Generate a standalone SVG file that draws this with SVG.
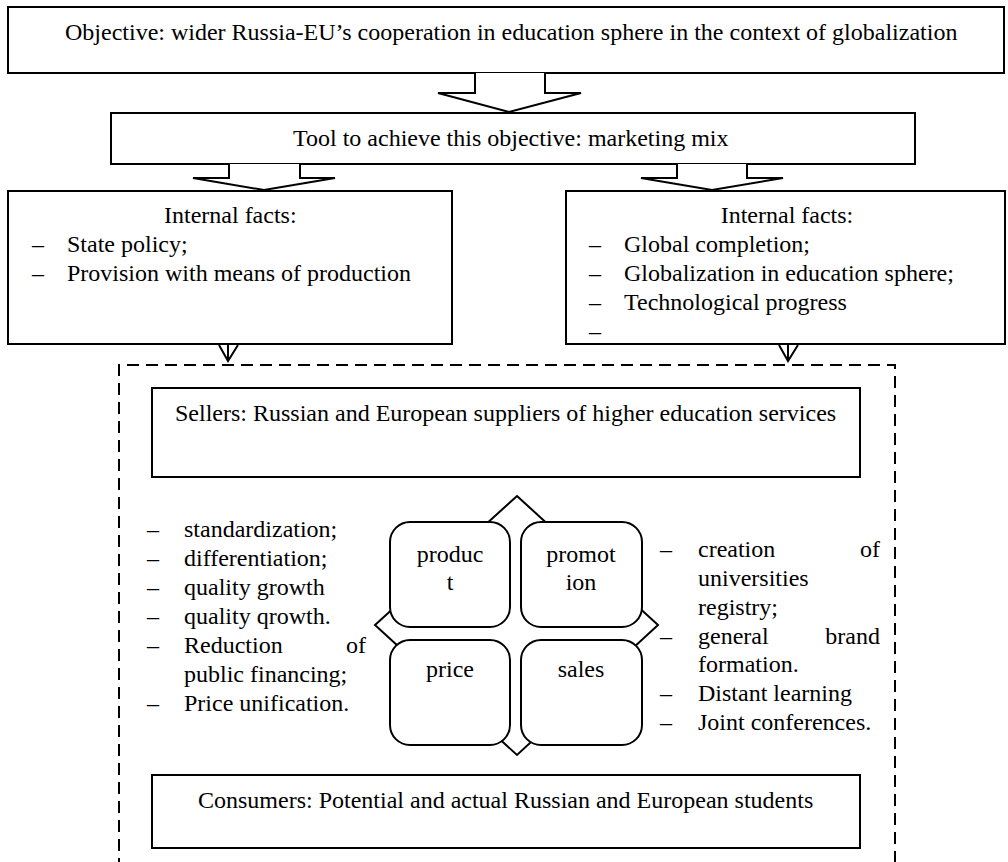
<svg xmlns="http://www.w3.org/2000/svg" width="1008" height="862" viewBox="0 0 1008 862">
<defs>
<style>
.box{fill:#fff;stroke:#000;stroke-width:2}
.rbox{fill:#fff;stroke:#000;stroke-width:2}
.dash{fill:none;stroke:#000;stroke-width:2;stroke-dasharray:12 7}
.ln{fill:#fff;stroke:#000;stroke-width:2;stroke-linejoin:miter}
.open{fill:none;stroke:#000;stroke-width:2}
text{font-family:"Liberation Serif","Times New Roman",serif;font-size:24px;fill:#000}
.c{text-anchor:middle}
.e{text-anchor:end}
</style>
</defs>
<rect width="1008" height="862" fill="#fff"/>

<g id="group-dashed">
<path class="dash" d="M119,870 V365 H895 V870"/>
</g>

<g id="node-objective">
<rect class="box" x="8" y="7" width="996" height="66"/>
<text x="65" y="40">Objective: wider Russia-EU’s cooperation in education sphere in the context of globalization</text>
</g>

<g id="node-tool">
<rect class="box" x="111" y="113" width="804" height="51"/>
<text x="293" y="146">Tool to achieve this objective: marketing mix</text>
</g>

<g id="node-internal-left">
<rect class="box" x="8" y="191" width="444" height="153"/>
<text x="164" y="223">Internal facts:</text>
<text x="32" y="252">–</text><text x="67" y="252">State policy;</text>
<text x="32" y="281">–</text><text x="67" y="281">Provision with means of production</text>
</g>

<g id="node-internal-right">
<rect class="box" x="566" y="191" width="439" height="153"/>
<text class="c" x="787" y="223">Internal facts:</text>
<text x="589" y="252">–</text><text x="624" y="252">Global completion;</text>
<text x="589" y="281">–</text><text x="624" y="281">Globalization in education sphere;</text>
<text x="589" y="310">–</text><text x="624" y="310">Technological progress</text>
<text x="589" y="339">–</text>
</g>

<g id="connectors">
<polyline class="ln" points="475,73 475,93 438,93 509,112 581,93 545,93 545,73"/>
<polyline class="ln" points="229,164 229,178 193,178 264,190 335,178 300,178 300,164"/>
<polyline class="ln" points="677,164 677,178 641,178 712,190 783,178 747,178 747,164"/>
<line class="open" x1="228" y1="344" x2="228" y2="361"/>
<polyline class="open" points="219,345 228,361 238,345"/>
<line class="open" x1="788" y1="344" x2="788" y2="361"/>
<polyline class="open" points="779,345 788,361 798,345"/>
</g>

<g id="node-sellers">
<rect class="box" x="152" y="388" width="708" height="89"/>
<text x="175" y="421">Sellers: Russian and European suppliers of higher education services</text>
</g>

<g id="node-mix">
<polygon class="ln" points="517,496 658,625 517,755 375,625"/>
<g id="node-product">
<rect class="rbox" x="390" y="522" width="120" height="105" rx="20" ry="20"/>
<text class="c" x="450" y="562">produc</text>
<text class="c" x="450" y="590">t</text>
</g>
<g id="node-promotion">
<rect class="rbox" x="521" y="522" width="121" height="105" rx="20" ry="20"/>
<text class="c" x="581" y="562">promot</text>
<text class="c" x="581" y="590">ion</text>
</g>
<g id="node-price">
<rect class="rbox" x="390" y="640" width="120" height="105" rx="20" ry="20"/>
<text class="c" x="450" y="677">price</text>
</g>
<g id="node-sales">
<rect class="rbox" x="521" y="640" width="121" height="105" rx="20" ry="20"/>
<text class="c" x="581" y="677">sales</text>
</g>
</g>

<g id="list-left">
<text x="147" y="537">–</text><text x="184" y="537">standardization;</text>
<text x="147" y="566">–</text><text x="184" y="566">differentiation;</text>
<text x="147" y="595">–</text><text x="184" y="595">quality growth</text>
<text x="147" y="624">–</text><text x="184" y="624">quality qrowth.</text>
<text x="147" y="653">–</text><text x="184" y="653">Reduction</text><text class="e" x="366" y="653">of</text>
<text x="184" y="682">public financing;</text>
<text x="147" y="711">–</text><text x="184" y="711">Price unification.</text>
</g>

<g id="list-right">
<text x="660" y="557">–</text><text x="698" y="557">creation</text><text class="e" x="880" y="557">of</text>
<text x="698" y="586">universities</text>
<text x="698" y="615">registry;</text>
<text x="660" y="644">–</text><text x="698" y="644">general</text><text class="e" x="880" y="644">brand</text>
<text x="698" y="672">formation.</text>
<text x="660" y="701">–</text><text x="698" y="701">Distant learning</text>
<text x="660" y="730">–</text><text x="698" y="730">Joint conferences.</text>
</g>

<g id="node-consumers">
<rect class="box" x="152" y="775" width="708" height="73"/>
<text x="198" y="808">Consumers: Potential and actual Russian and European students</text>
</g>
</svg>
